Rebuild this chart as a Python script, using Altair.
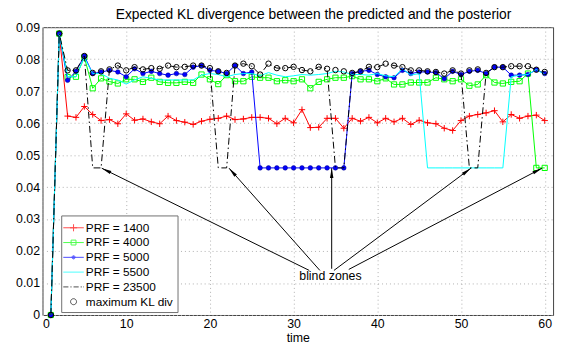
import altair as alt
import pandas as pd
import numpy as np

# ---------------- data ----------------
time = list(range(1, 61))

prf_1400 = [0, 0.088, 0.0622, 0.0618, 0.0652, 0.0627, 0.0608, 0.0611, 0.0598, 0.0629,
            0.0609, 0.0613, 0.0604, 0.0598, 0.0622, 0.0608, 0.0603, 0.0596, 0.0606, 0.0612,
            0.0615, 0.0622, 0.0611, 0.0613, 0.0618, 0.0618, 0.0615, 0.0598, 0.0615, 0.0601,
            0.0642, 0.0586, 0.0587, 0.0615, 0.0615, 0.0584, 0.0615, 0.0606, 0.0618, 0.0601,
            0.0615, 0.0604, 0.0615, 0.0596, 0.0609, 0.0601, 0.0598, 0.0584, 0.0577, 0.0608,
            0.0622, 0.0627, 0.0632, 0.0639, 0.0604, 0.0627, 0.0615, 0.0622, 0.0625, 0.0608]

prf_4000 = [0, 0.088, 0.0744, 0.0745, 0.0806, 0.0709, 0.0740, 0.0730, 0.0724, 0.0737,
            0.0737, 0.0729, 0.0742, 0.0729, 0.0726, 0.0726, 0.0729, 0.0726, 0.0752, 0.0737,
            0.0722, 0.0750, 0.0731, 0.0731, 0.0745, 0.0742, 0.0742, 0.0731, 0.0734, 0.0731,
            0.0737, 0.0709, 0.0729, 0.0737, 0.0742, 0.0742, 0.0747, 0.0737, 0.0737, 0.0731,
            0.0740, 0.0721, 0.0721, 0.0727, 0.0727, 0.0727, 0.0742, 0.0737, 0.0731, 0.0737,
            0.0717, 0.0721, 0.0750, 0.0727, 0.0724, 0.0729, 0.0731, 0.0755, 0.0460, 0.0460]

prf_5000 = [0, 0.088, 0.0734, 0.0762, 0.0810, 0.0755, 0.0760, 0.0765, 0.0760, 0.0745,
            0.0770, 0.0755, 0.0762, 0.0755, 0.0750, 0.0755, 0.0752, 0.0775, 0.0780, 0.0765,
            0.0762, 0.0755, 0.0780, 0.0755, 0.0760, 0.0460, 0.0460, 0.0460, 0.0460, 0.0460,
            0.0460, 0.0460, 0.0460, 0.0460, 0.0460, 0.0460, 0.0755, 0.0762, 0.0765, 0.0752,
            0.0745, 0.0742, 0.0765, 0.0755, 0.0760, 0.0760, 0.0758, 0.0739, 0.0762, 0.0752,
            0.0762, 0.0765, 0.0755, 0.0775, 0.0775, 0.0750, 0.0750, 0.0752, 0.0767, 0.0755]

prf_5500 = [0, 0.088, 0.0745, 0.0745, 0.0805, 0.0755, 0.0755, 0.0740, 0.0735, 0.0722,
            0.0735, 0.0745, 0.0740, 0.0735, 0.0735, 0.0735, 0.0735, 0.0735, 0.0750, 0.0755,
            0.0752, 0.0745, 0.0752, 0.0755, 0.0755, 0.0748, 0.0758, 0.0750, 0.0745, 0.0748,
            0.0752, 0.0750, 0.0752, 0.0755, 0.0762, 0.0760, 0.0752, 0.0752, 0.0750, 0.0755,
            0.0748, 0.0745, 0.0770, 0.0750, 0.0755, 0.0460, 0.0460, 0.0460, 0.0460, 0.0460,
            0.0460, 0.0460, 0.0460, 0.0460, 0.0460, 0.0745, 0.0750, 0.0752, 0.0768, 0.0752]

prf_23500 = [0, 0.088, 0.0765, 0.0765, 0.0810, 0.0460, 0.0460, 0.0768, 0.0780, 0.0765,
             0.0775, 0.0768, 0.0772, 0.0770, 0.0780, 0.0775, 0.0776, 0.0780, 0.0780, 0.0772,
             0.0460, 0.0460, 0.0780, 0.0786, 0.0778, 0.0752, 0.0786, 0.0772, 0.0772, 0.0776,
             0.0766, 0.0762, 0.0776, 0.0770, 0.0460, 0.0460, 0.0757, 0.0762, 0.0776, 0.0775,
             0.0786, 0.0780, 0.0775, 0.0765, 0.0765, 0.0762, 0.0760, 0.0755, 0.0765, 0.0755,
             0.0460, 0.0460, 0.0757, 0.0775, 0.0775, 0.0778, 0.0778, 0.0778, 0.0767, 0.0760]

max_kl = [0, 0.088, 0.0765, 0.0765, 0.0810, 0.0757, 0.0762, 0.0768, 0.0780, 0.0765,
          0.0775, 0.0768, 0.0772, 0.0770, 0.0780, 0.0775, 0.0776, 0.0780, 0.0780, 0.0772,
          0.0762, 0.0757, 0.0780, 0.0786, 0.0778, 0.0752, 0.0786, 0.0772, 0.0772, 0.0776,
          0.0766, 0.0762, 0.0776, 0.0770, 0.0766, 0.0762, 0.0757, 0.0762, 0.0776, 0.0775,
          0.0786, 0.0780, 0.0775, 0.0765, 0.0765, 0.0762, 0.0760, 0.0755, 0.0765, 0.0755,
          0.0765, 0.0768, 0.0757, 0.0775, 0.0775, 0.0778, 0.0778, 0.0778, 0.0767, 0.0760]

labels = ["PRF = 1400", "PRF = 4000", "PRF = 5000", "PRF = 5500", "PRF = 23500", "maximum KL div"]
colors = ["#ff0000", "#00ff00", "#0000ff", "#00ffff", "#000000", "#000000"]

x_ticks = [0, 10, 20, 30, 40, 50, 60]
y_ticks = [0, 0.01, 0.02, 0.03, 0.04, 0.05, 0.06, 0.07, 0.08, 0.09]

# annotation "blind zones": arrow start (near the text) and tip (at the blind zone)
ann_text = "blind zones"
ann_text_pos = [34.4, 0.0123]
arrow_start_t = [31.87, 33.14, 34.55, 34.82, 36.59]
arrow_start_v = [0.01394, 0.01394, 0.01446, 0.01394, 0.01425]
arrow_tip_t = [7.08, 22.29, 34.55, 51.18, 59.67]
arrow_tip_v = [0.0459, 0.0459, 0.0459, 0.0459, 0.0459]

# ---------------- chart ----------------
W, H = 518, 292
XD, YD = [0, 61], [0, 0.09]
FONT = "Liberation Sans"

series_vals = [prf_1400, prf_4000, prf_5000, prf_5500, prf_23500, max_kl]
df = pd.concat([pd.DataFrame({"time": time, "value": v, "series": lab})
                for v, lab in zip(series_vals, labels)], ignore_index=True)

xs = alt.Scale(domain=XD, nice=False, zero=False)
ys = alt.Scale(domain=YD, nice=False)
xa = alt.Axis(values=x_ticks, title="time", format="d")
ya = alt.Axis(values=y_ticks, title=None, format=".2~f")


def X(f):
    return alt.X(f, type="quantitative", scale=xs, axis=xa)


def Y(f):
    return alt.Y(f, type="quantitative", scale=ys, axis=ya)


layers = []
dashes = {"PRF = 23500": [7, 3, 1.5, 3]}
plus_path = "M-1,0L1,0M0,-1L0,1"
for lab, col in zip(labels[:5], colors[:5]):
    sub = alt.Chart(df).transform_filter(alt.datum.series == lab)
    kw = {"color": col, "strokeWidth": 1}
    if lab in dashes:
        kw["strokeDash"] = dashes[lab]
    layers.append(sub.mark_line(**kw).encode(x=X("time"), y=Y("value")))
    if lab == "PRF = 1400":
        layers.append(sub.mark_point(shape=plus_path, filled=False, color=col, size=42,
                                     strokeWidth=1, opacity=1).encode(x=X("time"), y=Y("value")))
    elif lab == "PRF = 4000":
        layers.append(sub.mark_point(shape="square", filled=False, color=col, size=28,
                                     strokeWidth=1, opacity=1).encode(x=X("time"), y=Y("value")))
    elif lab == "PRF = 5000":
        layers.append(sub.mark_point(shape="circle", filled=True, color=col, size=22,
                                     stroke="#000080", strokeWidth=0.5, opacity=1).encode(x=X("time"), y=Y("value")))

layers.append(alt.Chart(df).transform_filter(alt.datum.series == "maximum KL div")
              .mark_point(shape="circle", filled=False, color="black", size=30,
                          strokeWidth=1, opacity=1).encode(x=X("time"), y=Y("value")))

# annotation arrows
px_per_t = W / (XD[1] - XD[0])
px_per_v = H / (YD[1] - YD[0])
ann = pd.DataFrame({"st": arrow_start_t, "sv": arrow_start_v, "et": arrow_tip_t, "ev": arrow_tip_v})
ann["ang"] = [
    (np.degrees(np.arctan2((et - st) * px_per_t, (ev - sv) * px_per_v)) + 360) % 360
    for st, sv, et, ev in zip(ann.st, ann.sv, ann.et, ann.ev)
]
layers.append(alt.Chart(ann).mark_rule(color="black", strokeWidth=1).encode(
    x=X("st"), y=Y("sv"), x2="et:Q", y2="ev:Q"))
layers.append(alt.Chart(ann).mark_point(shape="M0,0L0.35,2L-0.35,2Z", filled=True, color="black",
                                        size=100, opacity=1).encode(
    x=X("et"), y=Y("ev"), angle=alt.Angle("ang:Q", scale=None)))
txt = pd.DataFrame({"t": [ann_text_pos[0]], "v": [ann_text_pos[1]], "label": [ann_text]})
layers.append(alt.Chart(txt).mark_text(font=FONT, fontSize=12.5, color="black", align="center",
                                       baseline="middle").encode(x=X("t"), y=Y("v"), text="label:N"))

# legend (symbols drawn as line + marker paths)
leg_paths = [
    "M-1.3,0L1.3,0M-0.45,0L0.45,0M0,-0.45L0,0.45",
    "M-1.3,0L1.3,0M-0.31,-0.31L0.31,-0.31L0.31,0.31L-0.31,0.31Z",
    "M-1.3,0L1.3,0M0.2,0A0.2,0.2 0 1,1 -0.2,0A0.2,0.2 0 1,1 0.2,0M0.1,0A0.1,0.1 0 1,1 -0.1,0A0.1,0.1 0 1,1 0.1,0",
    "M-1.3,0L1.3,0",
    "M-1.3,0L-0.65,0M-0.4,0L-0.25,0M0,0L0.65,0M0.9,0L1.05,0M1.22,0L1.3,0",
    "M0.38,0A0.38,0.38 0 1,1 -0.38,0A0.38,0.38 0 1,1 0.38,0Z",
]
leg = alt.Legend(title=None, orient="none", legendX=19, legendY=191, fillColor="white",
                 strokeColor="#707070", padding=4, symbolSize=256, symbolStrokeWidth=1,
                 symbolOffset=0, labelOffset=4, rowPadding=0, labelFont=FONT, labelFontSize=12,
                 labelColor="black", labelLimit=300, symbolType="circle", cornerRadius=0)
legend_layer = alt.Chart(pd.DataFrame({"series": labels, "time": [None] * 6, "value": [None] * 6})).transform_filter(
    "false").mark_point(filled=False, strokeWidth=1).encode(
    x=X("time"), y=Y("value"),
    color=alt.Color("series:N", scale=alt.Scale(domain=labels, range=colors), legend=leg),
    shape=alt.Shape("series:N", scale=alt.Scale(domain=labels, range=leg_paths), legend=leg),
)
layers.append(legend_layer)

chart = alt.layer(*layers).properties(
    width=W, height=H,
    title=alt.TitleParams(text="Expected KL divergence between the predicted and the posterior",
                          font=FONT, fontSize=14, fontWeight="normal", color="black",
                          anchor="middle", frame="group", baseline="alphabetic", offset=4,
                          dy=15.5, dx=16),
    autosize=alt.AutoSizeParams(type="none"),
    padding={"left": 35, "top": 17, "right": 5, "bottom": 30},
).configure_view(stroke="#404040", strokeWidth=1).configure_axis(
    labelFont=FONT, labelFontSize=12.5, labelColor="black", titleFont=FONT, titleFontSize=12.5,
    titleFontWeight="normal", titleColor="black", grid=True, gridDash=[1, 3], gridColor="#b0b0b0",
    domain=False, ticks=False, tickSize=0, labelPadding=3, titlePadding=1,
).configure_axisY(labelPadding=3)

chart.save("out.html", embed_options={"renderer": "svg", "actions": False})
